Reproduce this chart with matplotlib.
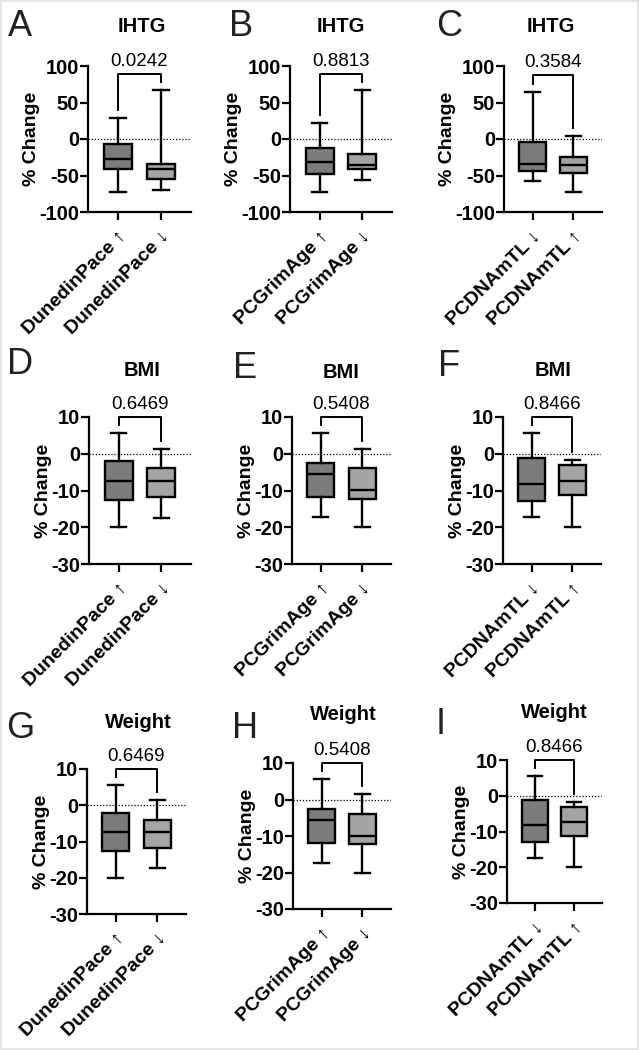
import matplotlib
matplotlib.use('Agg')
from matplotlib import pyplot as plt
from matplotlib.patches import Rectangle

plt.rcParams['font.family'] = ['Liberation Sans', 'DejaVu Sans']
plt.rcParams['axes.unicode_minus'] = False

W, H = 639, 1050

# data
letters = ['A', 'B', 'C', 'D', 'E', 'F', 'G', 'H', 'I']
titles = ['IHTG', 'IHTG', 'IHTG', 'BMI', 'BMI', 'BMI', 'Weight', 'Weight', 'Weight']
p_values = ['0.0242', '0.8813', '0.3584', '0.6469', '0.5408', '0.8466', '0.6469', '0.5408', '0.8466']
group_labels = [
    ['DunedinPace \u2191', 'DunedinPace \u2193'],
    ['PCGrimAge \u2191', 'PCGrimAge \u2193'],
    ['PCDNAmTL \u2193', 'PCDNAmTL \u2191'],
] * 3

whis_hi = [[28.7, 66.5], [22, 66.5], [65, 4.5],
           [5.6, 1.4], [5.6, 1.4], [5.6, -1.8],
           [5.6, 1.4], [5.6, 1.4], [5.6, -1.8]]
q3 = [[-6.4, -34], [-13, -20], [-3.6, -25],
      [-2.1, -4.0], [-2.6, -4.0], [-1.2, -3.1],
      [-2.1, -4.0], [-2.6, -4.0], [-1.2, -3.1]]
medians = [[-28, -41], [-31, -36], [-34, -35.5],
           [-7.5, -7.4], [-5.5, -9.9], [-8.3, -7.4],
           [-7.5, -7.4], [-5.5, -9.9], [-8.3, -7.4]]
q1 = [[-40.5, -54.7], [-48, -41], [-44, -47],
      [-12.7, -11.8], [-11.9, -12.3], [-12.9, -11.2],
      [-12.7, -11.8], [-11.9, -12.3], [-12.9, -11.2]]
whis_lo = [[-72, -70], [-72, -55.5], [-58, -72],
           [-20, -17.4], [-17.3, -20], [-17.3, -20],
           [-20, -17.4], [-17.3, -20], [-17.3, -20]]

y_limits = [(-100, 100)] * 3 + [(-30, 10)] * 6
y_ticks = [[-100, -50, 0, 50, 100]] * 3 + [[-30, -20, -10, 0, 10]] * 6

# layout in pixels: axes (left, right, top, bottom), letter pos, title pos
axes_px = [(88, 191, 66, 212), (290, 392, 66, 212), (504, 602, 66, 212),
           (89, 191, 417, 564), (292, 391, 417, 564), (503, 601, 417, 564),
           (87, 186, 769, 914), (293, 391, 763, 909), (507, 602, 760, 903)]
letter_px = [(20, 27), (241, 27), (449, 27),
             (20, 365), (245, 369), (449, 367),
             (20, 729), (245, 729), (441, 725)]
title_px = [(142, 27), (341, 27), (551, 27),
            (142, 370), (341, 372), (553, 370),
            (138, 723), (343, 715), (554, 713)]

box_colors = ['#7c7c7c', '#a4a4a4']


def fx(x):
    return x / W


def fy(y):
    return 1 - y / H


def main():
    fig = plt.figure(figsize=(W / 100, H / 100), dpi=100)
    fig.patches.append(Rectangle((0, 0), 1, 1, transform=fig.transFigure,
                                 fill=False, edgecolor='#e6e6e6', linewidth=3))

    for i in range(9):
        l, r, t, b = axes_px[i]
        ax = fig.add_axes((fx(l), fy(b), (r - l) / W, (b - t) / H))

        stats = []
        for j in range(2):
            stats.append({'whislo': whis_lo[i][j], 'q1': q1[i][j], 'med': medians[i][j],
                          'q3': q3[i][j], 'whishi': whis_hi[i][j], 'fliers': []})
        lw = 1.7
        bp = ax.bxp(stats, positions=[1, 2], widths=0.66, patch_artist=True,
                    showfliers=False,
                    boxprops=dict(linewidth=lw, edgecolor='black'),
                    medianprops=dict(linewidth=lw, color='black'),
                    whiskerprops=dict(linewidth=lw, color='black'),
                    capprops=dict(linewidth=lw, color='black'))
        for patch, c in zip(bp['boxes'], box_colors):
            patch.set_facecolor(c)
        for cap in bp['caps']:
            xd = cap.get_xdata()
            mid = (xd[0] + xd[1]) / 2
            cap.set_xdata([mid - 0.18, mid + 0.18])

        ymin, ymax = y_limits[i]
        rng = ymax - ymin
        ax.set_ylim(ymin, ymax)
        ax.set_xlim(0.3, 2.7)
        ax.axhline(0, color='black', linestyle=(0, (1, 1.5)), linewidth=0.9, zorder=0)

        # significance bracket
        top = max(whis_hi[i]) + 0.11 * rng
        leg1 = whis_hi[i][0] + 0.055 * rng
        leg2 = whis_hi[i][1] + 0.055 * rng
        ax.plot([1, 1, 2, 2], [leg1, top, top, leg2], color='black',
                linewidth=1.4, clip_on=False)
        ax.annotate(p_values[i], (1.5, top), xytext=(0, 3), textcoords='offset points',
                    ha='center', va='bottom', fontsize=13.5, annotation_clip=False)

        ax.spines['top'].set_visible(False)
        ax.spines['right'].set_visible(False)
        ax.spines['left'].set_linewidth(1.6)
        ax.spines['bottom'].set_linewidth(1.6)
        ax.set_yticks(y_ticks[i])
        ax.set_yticklabels([str(v) for v in y_ticks[i]], fontweight='bold', fontsize=14.5)
        ax.set_xticks([1, 2])
        ax.set_xticklabels(group_labels[i], rotation=45, ha='right',
                           rotation_mode='anchor', fontweight='bold', fontsize=14)
        ax.tick_params(direction='out', length=5.5, width=1.6, pad=1)
        ax.tick_params(axis='x', pad=6)
        ax.set_ylabel('% Change', fontweight='bold', fontsize=14, labelpad=-1)

        fig.text(fx(letter_px[i][0]), fy(letter_px[i][1]), letters[i], fontsize=26,
                 ha='center', va='center', color='#222222')
        fig.text(fx(title_px[i][0]), fy(title_px[i][1]), titles[i], fontsize=14.5,
                 fontweight='bold', ha='center', va='center')

    fig.savefig('out.png', dpi=100, facecolor='white')


if __name__ == '__main__':
    main()
